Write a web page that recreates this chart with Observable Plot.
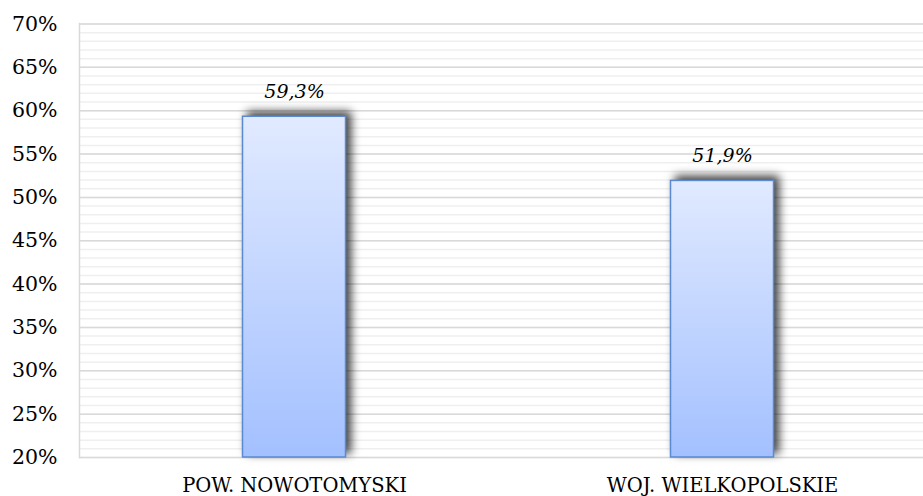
<!DOCTYPE html>
<html><head><meta charset="utf-8">
<script src="https://cdn.jsdelivr.net/npm/d3@7"></script>
<script src="https://cdn.jsdelivr.net/npm/@observablehq/plot@0.6"></script>
<style>body{margin:0;background:#fff} svg{display:block}</style>
</head><body><div id="chart"></div>
<script>
const categories = ["POW. NOWOTOMYSKI", "WOJ. WIELKOPOLSKIE"];
const values = [0.593, 0.519];
const valueLabels = ["59,3%", "51,9%"];
const yTicks = [0.20, 0.25, 0.30, 0.35, 0.40, 0.45, 0.50, 0.55, 0.60, 0.65, 0.70];
const yTickLabels = ["20%", "25%", "30%", "35%", "40%", "45%", "50%", "55%", "60%", "65%", "70%"];
const minorTicks = d3.range(20, 71).map(d => d / 100);
const yBase = 0.20;

const data = categories.map((c, i) => ({cat: c, value: values[i], label: valueLabels[i]}));
const font = "'DejaVu Serif', serif";

const chart = Plot.plot({
  width: 923,
  height: 496,
  marginLeft: 79,
  marginRight: 0,
  marginTop: 23,
  marginBottom: 39,
  style: {fontFamily: font, fontSize: "19px", color: "#000", background: "#fff"},
  x: {domain: categories, range: [79.5, 935.5], padding: 0},
  y: {domain: [0.2, 0.7], range: [457, 23.5]},
  marks: [
    Plot.ruleY(minorTicks, {stroke: "#efefef", strokeWidth: 1.5}),
    Plot.ruleY(yTicks, {stroke: "#d9d9d9", strokeWidth: 1.5}),
    Plot.frame({anchor: "left", stroke: "#d9d9d9", strokeWidth: 1.5}),
    Plot.barY(data, {x: "cat", y1: () => yBase, y2: "value", insetLeft: 162.5, insetRight: 162.5,
      fill: "url(#barGrad)", stroke: "#5a8ad2", strokeWidth: 1.5, className: "bar"}),
    Plot.text(data, {x: "cat", y: "value", text: "label", lineAnchor: "bottom", dy: -19,
      fontStyle: "italic", fontSize: 19, fill: "#000"}),
    Plot.axisY(yTicks, {tickSize: 0, tickPadding: 22, tickFormat: (d, i) => yTickLabels[i], fontSize: 20.5, label: null}),
    Plot.axisX({tickSize: 0, tickPadding: 21, fontSize: 19.5, label: null})
  ]
});

const svg = d3.select(chart);
const defs = svg.insert("defs", ":first-child");
const g = defs.append("linearGradient").attr("id", "barGrad").attr("x1", 0).attr("y1", 0).attr("x2", 0).attr("y2", 1);
g.append("stop").attr("offset", "0%").attr("stop-color", "#e1eaff");
g.append("stop").attr("offset", "100%").attr("stop-color", "#a3c0ff");
svg.selectAll(".bar rect").style("filter", "drop-shadow(5px -4px 5px rgba(0,0,0,0.75))");
document.getElementById("chart").appendChild(chart);
</script>
</body></html>
